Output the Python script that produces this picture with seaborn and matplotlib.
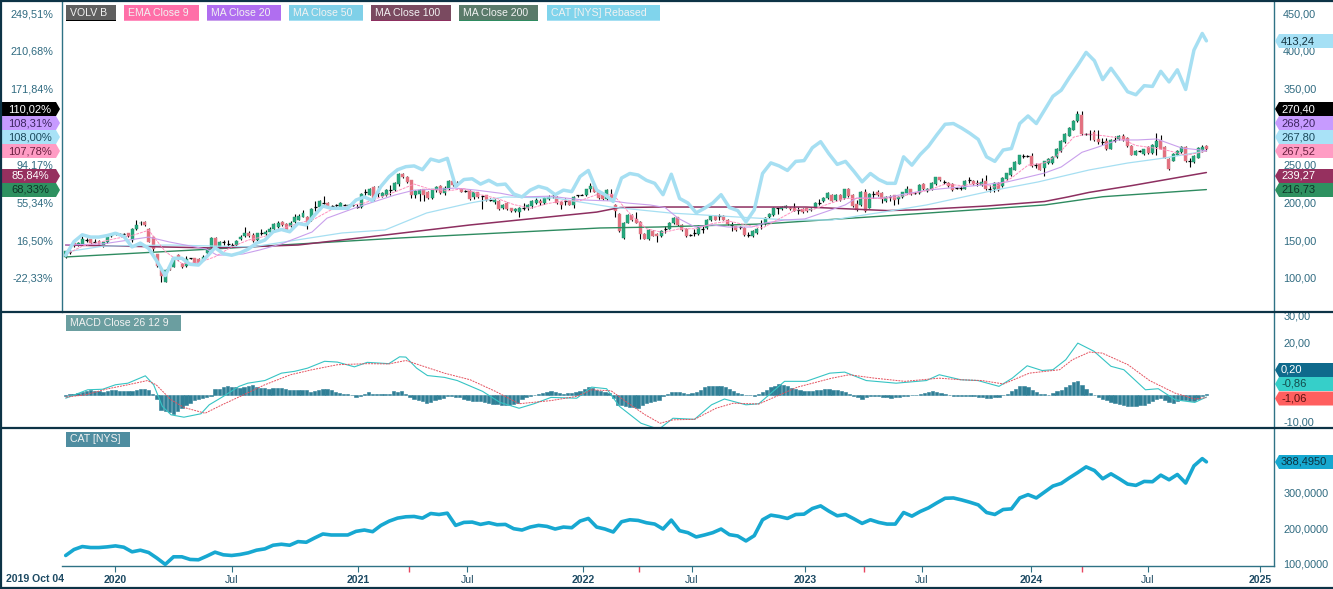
#! /usr/bin/env python3

import numpy as np
import seaborn as sns
import matplotlib.pyplot as plt
from matplotlib.patches import Polygon, Rectangle

##########################
#          Data          #
##########################

# VOLV B candles
opens = [128,134,146,143,145,150,151,148,149,142,147,155,158,158,158,159,150,164,172,174,165,154,131,111,95,115,115,130,119,116,126,126,125,124,133,141,153,141,147,145,143,143,152,155,160,157,150,
         160,158,161,164,167,174,171,168,174,177,181,181,176,194,194,199,199,195,196,194,196,195,196,194,194,214,210,220,212,208,210,216,216,224,237,234,229,210,211,217,214,205,216,222,212,218,228,
         226,218,215,215,207,213,208,209,203,200,202,192,199,192,188,187,193,192,195,199,202,199,204,208,207,200,201,202,197,209,210,209,217,221,214,210,204,211,197,185,153,173,183,178,174,158,151,
         162,158,155,164,165,172,180,170,165,157,160,158,164,166,176,182,182,182,177,170,168,167,166,157,155,159,171,171,180,183,192,191,193,193,193,190,191,192,190,193,199,201,205,210,203,210,205,
         218,210,198,196,213,193,211,213,212,201,207,209,204,207,212,217,212,212,224,215,217,224,233,227,226,224,219,219,218,229,228,225,223,228,218,217,226,221,231,236,243,251,261,261,261,249,251,
         245,252,252,260,268,279,288,296,307,315,290,290,293,284,280,281,271,282,283,288,285,274,263,268,264,273,265,273,282,273,257,255,263,266,273,255,253,259,269,274]
closes = [135,134,142,146,151,150,146,148,144,147,154,158,160,158,158,155,165,170,173,170,148,138,116,102,111,111,126,125,115,125,126,120,119,128,137,153,141,148,147,145,143,149,154,160,156,149,159,
          160,161,165,171,173,170,163,173,180,182,186,171,191,194,201,199,195,195,196,199,196,196,196,194,211,214,218,204,212,212,216,216,225,237,233,227,210,215,216,210,205,217,220,212,219,228,223,
          224,214,215,204,213,207,208,203,203,203,191,197,191,188,191,193,193,196,201,203,199,206,207,208,199,196,201,197,207,209,210,217,221,214,205,204,216,205,188,162,173,183,176,173,158,152,163,
          156,155,162,164,173,179,170,163,155,157,160,169,164,177,182,177,182,177,171,170,163,167,157,157,162,165,171,179,185,193,192,194,195,191,189,190,187,188,191,199,199,206,212,202,210,203,217,
          208,195,190,214,189,211,211,209,204,207,207,203,207,213,218,211,212,223,217,218,226,233,229,227,221,216,219,219,228,229,224,225,227,217,218,226,216,232,238,245,253,262,261,261,248,249,243,
          254,257,260,271,281,290,298,308,317,290,290,290,282,279,280,270,282,282,287,282,274,263,268,268,270,265,276,281,271,259,244,264,268,273,254,255,261,272,273,270]
highs = [136,137,147,148,155,153,152,151,150,148,155,160,161,160,160,160,166,176,175,175,166,156,132,112,112,116,128,131,120,129,127,127,126,130,140,154,154,149,150,150,146,150,157,167,162,159,160,
         164,163,167,173,175,175,172,175,184,184,190,182,192,201,203,208,200,196,198,200,198,198,198,198,212,218,219,221,221,214,218,223,227,238,238,235,230,216,218,218,215,218,222,223,221,230,229,
         228,219,216,216,214,214,210,210,206,204,203,198,200,193,193,194,199,198,203,205,204,207,209,211,208,201,205,203,208,210,211,218,225,222,215,212,217,218,198,186,174,184,184,187,175,159,165,
         163,159,163,169,174,181,181,171,166,158,165,170,170,178,183,183,185,183,178,174,169,169,167,161,163,166,177,180,186,194,193,195,196,194,199,194,192,193,193,200,204,207,214,211,211,211,218,
         219,211,203,215,218,212,215,216,213,208,210,210,208,214,221,218,213,224,225,219,227,234,234,230,227,225,220,222,229,233,229,229,232,236,223,227,227,233,239,246,254,263,264,262,265,252,252,
         255,258,261,272,282,291,299,309,320,320,291,295,296,295,285,285,283,288,289,290,286,275,269,269,271,274,277,292,289,274,258,265,269,274,274,258,262,273,275,275]
lows = [126,131,141,142,144,147,145,146,142,141,146,154,157,157,156,154,148,163,170,169,147,136,114,95,94,110,114,124,113,114,125,119,118,122,132,140,140,140,143,141,142,142,150,154,154,147,148,
        157,157,160,163,166,169,162,167,173,176,180,164,175,189,193,198,194,193,194,193,195,194,195,192,192,210,209,202,207,207,208,210,215,222,232,226,205,205,202,202,204,204,214,211,210,216,221,
        221,213,214,203,204,206,191,202,201,198,190,191,190,187,187,181,190,190,193,198,197,198,203,206,198,191,196,196,193,207,209,208,214,213,204,203,203,204,181,161,152,172,175,172,151,151,150,
        155,147,154,160,164,171,169,162,154,156,155,157,160,165,175,176,176,176,170,162,162,165,156,154,154,158,164,170,179,182,185,190,192,190,188,185,186,187,189,192,196,200,204,201,202,202,204,
        207,194,188,195,187,192,206,208,199,200,201,197,198,206,211,210,211,211,216,214,216,223,228,224,220,215,218,216,217,226,223,221,222,216,213,214,215,220,230,235,242,250,258,260,247,245,242,
        235,251,251,259,267,278,287,295,306,289,289,282,281,277,275,269,270,280,282,281,273,262,262,267,263,264,264,263,270,258,243,254,262,265,253,247,252,258,266,268]

# CAT rebased onto the VOLV scale, one reading every second bar plus the last bar
cat_idx = list(range(0, 276, 2)) + [275]
cat_rebased = [130,148,157,154,154,156,159,155,141,146,139,122,103,126,126,118,117,128,140,132,130,133,138,146,
               150,161,164,161,172,170,183,195,192,192,192,203,207,202,221,234,243,247,248,243,257,254,258,221,
               230,231,224,229,223,224,211,207,216,221,218,210,216,214,234,242,216,210,201,232,238,236,
               229,225,210,237,205,199,186,192,199,210,193,189,174,190,238,252,248,242,254,255,272,280,264,250,
               254,
               241,227,238,230,225,225,260,249,263,274,289,303,304,298,291,283,260,254,269,271,304,314,304,322,340,348,365,381,398,387,362,377,362,346,342,354,353,373,359,375,349,401,423,
               413.24]
CAT_LAST = 388.495

ema9_idx = [0,4,8,12,16,20,24,28,32,36,40,44,48,52,56,60,64,68,72,76,80,84,88,92,96,100,104,108,112,116,120,124,128,132,136,140,144,148,152,156,160,164,168,172,176,180,184,188,192,196,200,204,208,212,216,220,224,228,232,236,239,243,246,250,254,258,262,266,270,275]
ema9 = [131,142,147,152,156,163,135,119,120,128,141,150,155,165,172,178,190,195,199,207,215,224,217,215,218,210,205,197,192,198,202,202,210,210,185,165,160,165,165,172,175,170,166,178,190,190,198,205,205,205,206,211,216,224,222,225,220,232,249,252,262,286,290,288,285,275,272,268,262,267.52]

ma20_idx = [0,9,20,25,34,36.5,42.7,46.8,52,59.4,63,69.7,73.4,79.4,84,90.7,93.8,99,104.7,109.5,116.7,124.7,132,135.3,140.9,144.5,147.6,151.7,155.8,159.7,165.4,168.6,173.4,178.2,183,187.9,190.7,197,207.6,213,221,226.9,231,236,240,245,248.9,253.7,258.5,263,269,275]
ma20 = [143.5,145,154,147.5,138,130,131.6,137,145,160.7,179,192.4,199,209.6,216,217.5,218.8,216,212,207,208,203,201.6,199,196.4,193,179,167.3,170,167.3,167.3,172.6,176.6,178,187,196.4,205.6,205.6,216,218.8,222.8,226.8,232,238.6,246.6,266,273,282.3,282.3,283.6,271.7,268.2]

ma50_idx = [0,9,25,45,66.6,77,87,97.5,105.7,118,131.5,145.7,162,174.4,184.8,197,207.5,224,234.4,246.7,256,264.8,275]
ma50 = [134.3,142,143.5,141,159.4,163.4,185.8,199,207,205.6,193.7,185.8,180.5,176.6,176.6,187,196.4,216,226.8,242.6,251.8,258.4,267.8]

ma100_idx = [0,35.8,56,77,97.5,128,133.6,143,160,178.5,198,205,222,236,241.6,246.7,257,275]
ma100 = [143.5,139.6,143.5,156.7,170,187,193,193.7,193.7,193.7,189,190,195,201,207,213,222,239.27]

ma200_idx = [0,40,80.6,128.8,143,168,195,222,236,250,275]
ma200 = [127.7,139.6,152.8,166,167.3,171.3,181,191,196.4,207.3,216.73]

# MACD histogram, one bar per bar of the chart, in eighths of a point
macd_hist = [-5,2,3,5,7,12,14,12,10,8,10,14,14,10,10,10,12,13,16,17,15,3,-13,-45,-50,-52,-58,-50,-40,-32,-25,-17,-14,-10,-6,-3,17,18,24,25,24,22,21,24,26,28,22,20,19,18,19,20,20,18,15,13,13,14,14,8,11,15,17,17,14,9,6,3,1,-2,-7,-3,
             3,7,3,2,1,1,1,10,9,10,2,-8,-13,-15,-20,-25,-22,-17,-13,-10,-5,-3,-6,-8,
             -14,-17,-18,-19,-20,-22,-25,-27,-28,-30,-30,-30,-29,-25,-14,-8,-5,-2,3,5,8,10,8,5,3,4,6,7,12,16,22,21,14,11,8,6,-10,-30,-32,-34,-36,-38,-40,-32,-26,-22,-18,
             -15,-5,2,7,8,7,4,1,4,8,15,22,25,26,27,27,22,16,10,5,1,-1,-2,-3,2,7,15,22,27,31,30,26,21,17,13,11,11,12,14,15,17,16,14,13,11,8,2,-3,-8,-12,-8,-5,-3,-5,-6,-7,-10,-8,-6,-4,-3,-2,0,2,4,8,10,8,6,2,-2,-4,-3,-3,-3,-4,-5,-6,-8,-10,-10,-8,-7,-1,3,10,18,25,27,24,14,7,3,1,0,4,10,15,22,30,38,42,28,18,6,0,-7,-13,-17,-22,-25,-28,-30,-33,-35,-33,-31,-30,-24,-18,-13,-10,-15,-22,-25,-20,-16,-16,-19,-20,-12,-5,2]

macd_idx = [0,5.3,8.9,12,15,19.2,21.2,23.3,25.4,28.5,32.6,34.6,37.7,41.8,43.9,48,52,55.2,58.3,62.4,65.5,69.6,72.7,77.9,80.5,82,84.6,87.2,91.3,94.4,100.5,104.7,109.3,112.9,117,123.2,126.8,130.4,133.5,138.7,141.7,143.3,146.4,151.6,155.7,158.8,164,167.1,173.3,178.5,184.2,187.8,193,200.2,207.5,210.6,215.8,219.9,225,228.2,231.8,235.4,238,241.1,244,247.9,252,255.1,260.3,263.4,267.5,272.2,275]
macd_line = [-1.3,1.9,2.1,3.8,4.4,7.2,3.8,-4.4,-7.6,-8.5,-7.2,-3.8,-0.9,3.2,4.4,5.4,8.2,8.9,10.1,12.7,12.4,10.6,12.3,11.8,14.4,14.3,10.1,7.3,6.6,5.4,1.3,-2.9,-5.1,-3.4,-1,-1.3,2.9,2.3,-4.4,-10.8,-12.4,-12.7,-8.9,-9.3,-3.8,-1.6,-3.8,-3.4,5.1,5.1,8.2,8.6,5.4,4.4,5.4,7.6,5.7,5.4,3.2,6.3,11,9.2,9.5,13.3,19.6,16.5,10.8,9.5,1.9,2.3,-1.9,-2.9,-0.86]
signal_idx = [0,4.8,9.9,15,19.7,21.8,25.4,28.5,33.6,37.7,42.9,48,54.2,59.4,65.5,72.7,77.9,82,91.3,97.5,103.6,109.3,117,123.2,126.8,131.5,135.6,139.7,143.3,146.4,151.6,156.8,160.9,167.1,171.3,176.4,184.7,188.9,195,202.3,210.6,215.8,220.9,226.1,232.3,239.6,242.7,246.8,249.9,256.1,261.3,267.5,272.2,275]
signal_line = [-0.9,0,2.2,3.8,5.4,3.8,-1.9,-4.8,-7,-3.8,0,3.8,7.6,9.5,11.4,11.8,11.7,13,8.2,5.7,1.3,-3.4,-2.2,-0.6,1.9,1.5,-3.2,-7.6,-10.8,-9.5,-9.3,-5.1,-3.2,-3.5,-0.6,2.9,6.3,7.6,6.3,5.1,6.3,5.7,5.4,4.1,8.2,9.5,13.3,16.2,15.8,11.4,5.4,0.6,-1.6,-1.06]

# Axis texts
price_ticks = [450, 400, 350, 250, 200, 150, 100]
pct_ticks = [450, 400, 350, 250, 200, 150, 100]
pct_labels = ['249,51%', '210,68%', '171,84%', '94,17%', '55,34%', '16,50%', '-22,33%']
macd_ticks = [30, 20, -10]
cat_ticks = [300, 200, 100]
date_ticks = [11.9, 40.1, 70.5, 96.8, 124.7, 151, 178.2, 206.4, 232.7, 260.9, 287.9]
date_labels = ['2020', 'Jul', '2021', 'Jul', '2022', 'Jul', '2023', 'Jul', '2024', 'Jul', '2025']
red_ticks = [82.8, 138.2, 192.5, 245]

legend_names = ['VOLV B', 'EMA Close 9', 'MA Close 20', 'MA Close 50', 'MA Close 100', 'MA Close 200', 'CAT [NYS] Rebased']

##########################
#         Set up         #
##########################

W, H = 1333, 589
DARK = '#0d3346'
AXIS = '#2f7285'
TICK = '#2f6a80'
C_EMA = '#ff8fbe'
C_MA20 = '#c9a0ec'
C_MA50 = '#a6dff2'
C_MA100 = '#8d2f60'
C_MA200 = '#2e8b60'

sns.set_style('white')
plt.rcParams['font.family'] = ['Liberation Sans', 'DejaVu Sans']
plt.rcParams['font.size'] = 7.8

fig = plt.figure(figsize=(W / 100, H / 100), dpi=100)

def px_axes(x0, y0, x1, y1):
    return fig.add_axes([x0 / W, 1 - y1 / H, (x1 - x0) / W, (y1 - y0) / H])

# bar i sits at 65.7 + 4.148 * i pixels
XLIM = ((62 - 65.7) / 4.148, (1273.5 - 65.7) / 4.148)

ax_main = px_axes(62, 0, 1273.5, 312)
ax_macd = px_axes(62, 312, 1273.5, 428)
ax_cat = px_axes(62, 428, 1273.5, 566)

for ax in (ax_main, ax_macd, ax_cat):
    ax.set_xlim(*XLIM)
    ax.set_facecolor('white')
    for name in ('top', 'bottom', 'left'):
        ax.spines[name].set_visible(False)
    ax.spines['right'].set_color(AXIS)
    ax.spines['right'].set_linewidth(1)

##########################
#       Main panel       #
##########################

ax_main.set_ylim(55, 467.2)
opens_a, closes_a = np.array(opens), np.array(closes)
candle_x = np.linspace(0, 275, len(closes))
is_up = closes_a > opens_a
is_down = closes_a < opens_a
is_doji = closes_a == opens_a

ax_main.vlines(candle_x, lows, highs, color='black', linewidth=0.8, zorder=2)
ax_main.bar(candle_x[is_up], (closes_a - opens_a)[is_up], bottom=opens_a[is_up], width=0.72,
            color='#27a87e', edgecolor='#1f8f6a', linewidth=0.3, zorder=3)
ax_main.bar(candle_x[is_down], (closes_a - opens_a)[is_down], bottom=opens_a[is_down], width=0.72,
            color='#e4707f', edgecolor='#d8808a', linewidth=0.3, zorder=3)
ax_main.hlines(closes_a[is_doji], candle_x[is_doji] - 0.36, candle_x[is_doji] + 0.36,
               color='black', linewidth=0.9, zorder=3)

sns.lineplot(x=ma200_idx, y=ma200, ax=ax_main, color=C_MA200, linewidth=1.0, zorder=4)
sns.lineplot(x=ma100_idx, y=ma100, ax=ax_main, color=C_MA100, linewidth=1.1, zorder=4)
sns.lineplot(x=ma50_idx, y=ma50, ax=ax_main, color=C_MA50, linewidth=0.9, zorder=4)
sns.lineplot(x=ma20_idx, y=ma20, ax=ax_main, color=C_MA20, linewidth=0.8, zorder=4)
sns.lineplot(x=ema9_idx, y=ema9, ax=ax_main, color=C_EMA, linewidth=0.7, linestyle=(0, (3, 1)), zorder=4)
sns.lineplot(x=cat_idx, y=cat_rebased, ax=ax_main, color=C_MA50, linewidth=2.5, zorder=5)
ax_main.set_xticks([])

# Left percent scale shares the price positions, twinx flips the main ticks so set them after
ax_pct = ax_main.twinx()
ax_pct.set_ylim(ax_main.get_ylim())
ax_pct.yaxis.tick_left()
ax_pct.set_yticks(pct_ticks, pct_labels)
ax_pct.tick_params(axis='y', length=0, pad=6.2, labelsize=7.8, labelcolor=TICK)
for name in ('top', 'bottom', 'right'):
    ax_pct.spines[name].set_visible(False)
ax_pct.spines['left'].set_color(AXIS)
ax_pct.spines['left'].set_linewidth(1)

ax_main.yaxis.tick_right()
ax_main.set_yticks(price_ticks, [f'{v},00' for v in price_ticks])

##########################
#       MACD panel       #
##########################

ax_macd.set_ylim(-12.6, 31.4)
hist_values = np.array(macd_hist) / 7.9
ax_macd.bar(np.arange(len(hist_values)), hist_values, width=0.8, color='#2f7f96',
            edgecolor='#2f7f96', linewidth=0.4, zorder=2)
sns.lineplot(x=macd_idx, y=macd_line, ax=ax_macd, color='#36c4c4', linewidth=0.8, zorder=3)
sns.lineplot(x=signal_idx, y=signal_line, ax=ax_macd, color='#e4525f', linewidth=0.7, linestyle=(0, (2, 1)), zorder=3)
ax_macd.set_xticks([])
ax_macd.yaxis.tick_right()
ax_macd.set_yticks(macd_ticks, [f'{v},00' for v in macd_ticks])

##########################
#       CAT panel        #
##########################

ax_cat.set_ylim(92.3, 484.7)
cat_close = np.array(cat_rebased) * CAT_LAST / cat_rebased[-1]
sns.lineplot(x=cat_idx, y=cat_close, ax=ax_cat, color='#17a8d1', linewidth=2.6, zorder=3)
ax_cat.yaxis.tick_right()
ax_cat.set_yticks(cat_ticks, [f'{v},0000' for v in cat_ticks])
ax_cat.spines['bottom'].set_visible(True)
ax_cat.spines['bottom'].set_color(AXIS)
ax_cat.spines['bottom'].set_linewidth(1)
ax_cat.set_xticks(date_ticks, date_labels)
ax_cat.set_xticks(red_ticks, minor=True)
ax_cat.tick_params(axis='x', which='major', bottom=True, length=4, width=0.8, color=AXIS, pad=2.5, labelsize=7.6, labelcolor='#1d4a63')
ax_cat.tick_params(axis='x', which='minor', bottom=True, length=4.5, width=1, color='#e8455f')
for label in ax_cat.get_xticklabels():
    if label.get_text() != 'Jul':
        label.set_fontweight('bold')
ax_cat.set_xlim(*XLIM)

for ax in (ax_main, ax_macd, ax_cat):
    ax.tick_params(axis='y', length=0, pad=7, labelsize=7.8, labelcolor=TICK)
    ax.set_xlabel('')
    ax.set_ylabel('')
ax_pct.set_ylabel('')

##########################
#   Tags, legend, frame  #
##########################

# Overlay in pixel units for tags and legend boxes
over = fig.add_axes([0, 0, 1, 1], zorder=20)
over.set_xlim(0, W)
over.set_ylim(H, 0)
over.axis('off')
over.patch.set_alpha(0)

def left_tag(y, text, color, text_color):
    over.add_patch(Polygon([(2, y - 7), (56, y - 7), (60, y), (56, y + 7), (2, y + 7)], facecolor=color, edgecolor='none'))
    over.text(30, y, text, color=text_color, ha='center', va='center', fontsize=8)

def right_tag(y, text, color, text_color):
    over.add_patch(Polygon([(1275, y), (1279, y - 7), (1333, y - 7), (1333, y + 7), (1279, y + 7)], facecolor=color, edgecolor='none'))
    over.text(1281, y, text, color=text_color, ha='left', va='center', fontsize=8)

left_tag(109, '110,02%', 'black', 'white')
left_tag(123, '108,31%', '#c79bff', '#3c2560')
left_tag(137, '108,00%', '#a9e2f7', '#1c4a5c')
left_tag(151, '107,78%', '#ff9cc4', '#6a1f3f')
left_tag(176, '85,84%', '#96305f', 'white')
left_tag(190, '68,33%', '#2e9160', '#0e3326')

right_tag(41, '413,24', '#a5e0f5', '#12323f')
right_tag(109, '270,40', 'black', 'white')
right_tag(123, '268,20', '#c79bff', '#3c2560')
right_tag(137, '267,80', '#a9e2f7', '#1c4a5c')
right_tag(151, '267,52', '#ff9cc4', '#6a1f3f')
right_tag(176, '239,27', '#96305f', 'white')
right_tag(190, '216,73', '#2e9160', '#0e3326')
right_tag(370, '0,20', '#0f6a8c', 'white')
right_tag(384, '-0,86', '#36cfc9', '#124a4a')
right_tag(398.5, '-1,06', '#ff5f5f', '#5a1010')
right_tag(462, '388,4950', '#16a8d0', '#0c3240')

legend_x0 = [66, 124, 207, 289, 371, 459, 547]
legend_x1 = [116, 199, 281, 363, 451, 538, 660]
legend_fill = ['#5f5f5f', '#ff6fa8', '#b06ef0', '#7fd0e8', '#7a4a60', '#5a7a6a', '#80d4ec']
legend_line = ['black', C_EMA, C_MA20, C_MA50, C_MA100, C_MA200, C_MA50]

for name, x0, x1, fill, line in zip(legend_names, legend_x0, legend_x1, legend_fill, legend_line):
    over.add_patch(Rectangle((x0, 5), x1 - x0, 14.5, facecolor=fill, edgecolor='none'))
    over.add_patch(Rectangle((x0, 19.5), x1 - x0, 1.5, facecolor=line, edgecolor='none'))
    over.text(x0 + 4, 12.5, name, color='#f2f2f2', ha='left', va='center', fontsize=7.6)

over.add_patch(Rectangle((66, 315), 115, 16, facecolor='#6b9ea0', edgecolor='none'))
over.text(70, 323, 'MACD Close 26 12 9', color='#f2f2f2', ha='left', va='center', fontsize=7.6)
over.add_patch(Rectangle((66, 432), 64, 15, facecolor='#4f8da0', edgecolor='none'))
over.text(70, 439.5, 'CAT [NYS]', color='#f2f2f2', ha='left', va='center', fontsize=7.6)

over.text(6, 578.5, '2019 Oct 04', color='#1d4a63', ha='left', va='center', fontsize=7.6, fontweight='bold')

# Dark frame and panel separators
over.hlines([1, 312, 428, 587.5], 0, W, color=DARK, linewidth=1.6)
over.vlines([1], 0, H, color=DARK, linewidth=1.6)

plt.savefig('out.png', dpi=100)
